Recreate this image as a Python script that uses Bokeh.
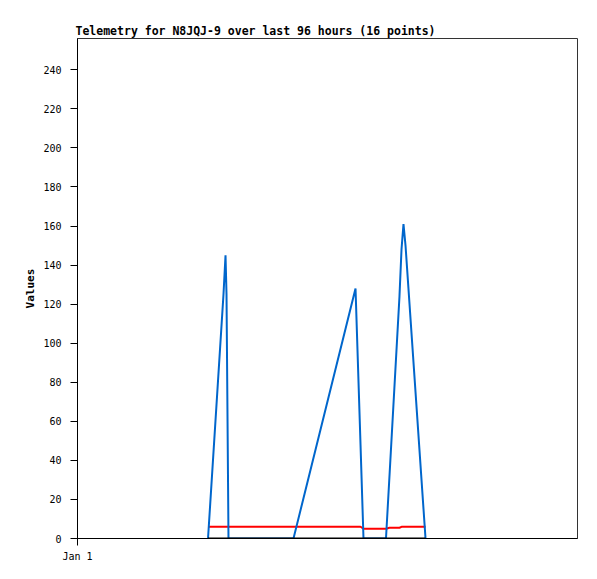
from bokeh.plotting import figure
from bokeh.models import FixedTicker, Range1d
from bokeh.embed import file_html
from bokeh.resources import INLINE

# hours since start of the 96-hour window
hours = [25.06, 28.03, 28.42, 28.61, 28.99, 41.47, 53.38, 54.34,
         54.91, 59.23, 59.90, 61.82, 62.21, 62.59, 62.98, 66.82]
blue_values = [0, 125, 145, 125, 0, 0, 128, 48,
               0, 0, 32, 124, 148, 161, 150, 0]
red_values = [6, 6, 6, 6, 6, 6, 6, 6,
              5, 5, 5.5, 5.5, 6, 6, 6, 6]
black_values = [0] * 16
y_ticks = list(range(0, 241, 20))
x_tick_label = "Jan 1"

p = figure(frame_width=500, frame_height=500,
           output_backend="svg", toolbar_location=None,
           x_range=Range1d(0, 96), y_range=Range1d(0, 256),
           min_border_left=77, min_border_right=12,
           min_border_top=38, min_border_bottom=33)

p.title.text = "Telemetry for N8JQJ-9 over last 96 hours (16 points)"
p.title.text_font = "DejaVu Sans Mono"
p.title.text_font_size = "11.5px"
p.title.text_font_style = "bold"
p.title.text_color = "#000000"
p.title.offset = -2
p.title.standoff = 2

p.xgrid.visible = False
p.ygrid.visible = False
p.outline_line_color = "#333333"
p.outline_line_width = 1

for ax in (p.xaxis, p.yaxis):
    ax.axis_line_color = "#000000"
    ax.major_tick_line_color = "#000000"
    ax.minor_tick_line_color = None
    ax.major_tick_out = 7
    ax.major_tick_in = 0
    ax.major_label_text_font = "DejaVu Sans Mono"
    ax.major_label_text_font_size = "10px"
    ax.major_label_text_color = "#000000"

p.yaxis.ticker = FixedTicker(ticks=y_ticks)
p.yaxis.major_label_standoff = 9
p.yaxis.axis_label = "Values"
p.yaxis.axis_label_text_font = "DejaVu Sans Mono"
p.yaxis.axis_label_text_font_size = "11px"
p.yaxis.axis_label_text_font_style = "bold"
p.yaxis.axis_label_text_color = "#000000"
p.yaxis.axis_label_standoff = 3

p.xaxis.ticker = FixedTicker(ticks=[0])
p.xaxis.major_label_overrides = {0: x_tick_label}
p.xaxis.major_label_standoff = 5

p.line(hours, red_values, line_color="#ff0000", line_width=2)
p.line(hours, blue_values, line_color="#0066cc", line_width=2)
p.line(hours, black_values, line_color="#000000", line_width=2)

open("out.html", "w").write(file_html(p, INLINE))
